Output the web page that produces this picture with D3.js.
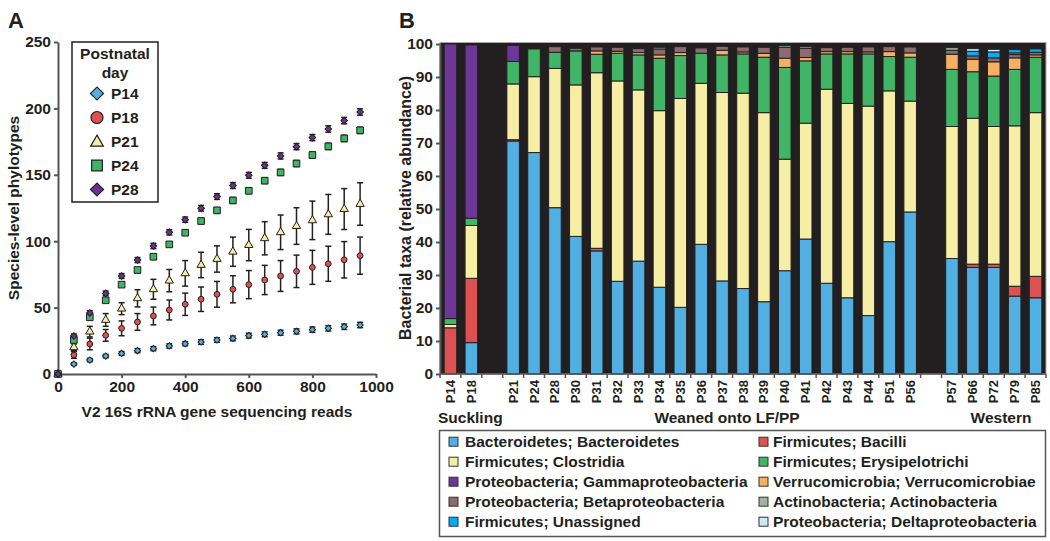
<!DOCTYPE html>
<html><head><meta charset="utf-8">
<script src="https://cdn.jsdelivr.net/npm/d3@7"></script>
<style>
html,body{margin:0;padding:0;background:#fff;}
svg{display:block;}
text{font-family:"Liberation Sans",Arial,sans-serif;font-weight:bold;fill:#231f20;}
</style></head>
<body>
<script>
// ---------------- Panel A data ----------------
const readsX = [0,50,100,150,200,250,300,350,400,450,500,550,600,650,700,750,800,850,900,950];
const yTicksA = [0,50,100,150,200,250];
const xTicksA = [0,200,400,600,800,1000];
const seriesNames = ["P14","P18","P21","P24","P28"];
const p14 = [0,7.5,10.5,13.5,15.5,17.6,19.1,21.1,22.8,24.1,25.6,26.8,28.9,29.9,31.1,32.1,33.4,34.4,35.6,36.9];
const p18 = [0,14.3,22.6,29.1,34.4,39.2,43.7,48.2,52.5,56.3,60,63.8,67.3,70.8,73.8,77.3,80.3,83,86,89.1];
const p21 = [0,20.1,31.9,40.7,49.2,57,63.8,70.3,75.8,82.1,86.6,92.1,97.1,102.2,106.7,111.4,115.7,120.2,124.2,128];
const p24 = [0,25.6,42.7,55.5,67.3,78.3,88.3,97.6,106.4,115.2,123.2,130.7,138,145.6,151.8,158.5,164.9,171.4,177.4,183.5];
const p28 = [0,28.6,46,60.7,73.8,85.8,96.4,106.7,116.2,124.8,133.6,141.9,149.6,157.1,164.2,171.2,178,184.5,190.8,197.3];
const p14err = [0,1,1.2,1.3,1.4,1.5,1.5,1.6,1.6,1.7,1.7,1.8,1.8,1.8,1.9,1.9,2,2,2,2];
const p18err = [0,2.5,4.4,4.4,5.6,6.3,6.7,7.5,8.4,9.2,9.7,10.2,10.6,11,11.6,12.2,12.8,13.2,13.7,14];
const p21err = [0,2.5,4,4.8,4.5,6.5,7.5,8.4,9.6,9.6,9.9,11,11.8,12.5,13,13.8,14.5,15,15.4,16];
const p24err = [0,1.5,1.6,1.7,1.8,1.9,2,2,2,2.1,2.1,2.2,2.2,2.2,2.3,2.3,2.3,2.4,2.4,2.4];
const p28err = [0,1.5,1.6,1.7,1.8,1.9,2,2,2,2.1,2.1,2.2,2.2,2.2,2.3,2.3,2.3,2.4,2.4,2.4];

// ---------------- Panel B data ----------------
const samples = ["P14","P18","P21","P24","P28","P30","P31","P32","P33","P34","P35","P36","P37","P38","P39","P40","P41","P42","P43","P44","P51","P56","P57","P66","P72","P79","P85"];
const sampleGroup = ["S","S","W","W","W","W","W","W","W","W","W","W","W","W","W","W","W","W","W","W","W","W","X","X","X","X","X"];
const groupNames = ["Suckling","Weaned onto LF/PP","Western"];
const yTicksB = [0,10,20,30,40,50,60,70,80,90,100];
const taxa = [
 "Bacteroidetes; Bacteroidetes","Firmicutes; Bacilli","Firmicutes; Clostridia","Firmicutes; Erysipelotrichi",
 "Proteobacteria; Gammaproteobacteria","Verrucomicrobia; Verrucomicrobiae","Proteobacteria; Betaproteobacteria",
 "Actinobacteria; Actinobacteria","Firmicutes; Unassigned","Proteobacteria; Deltaproteobacteria"];
const bacteroidetes   = [0,9.5,70.6,67.1,50.4,41.7,37.3,28.1,34.2,26.3,20.2,39.3,28.2,25.9,21.9,31.3,40.9,27.5,23.1,17.7,40.1,49.1,35.0,32.3,32.3,23.6,23.1];
const bacilli         = [14.0,19.5,0.4,0,0,0,0.8,0,0,0,0,0,0,0,0,0,0,0,0,0,0,0,0,1.0,1.0,3.0,6.5];
const clostridia      = [1.0,16.0,16.9,23.0,42.2,45.9,53.2,60.7,51.9,53.5,63.3,48.8,57.1,59.2,57.3,33.8,35.1,58.8,58.9,63.5,45.7,33.6,40.0,44.2,41.7,48.6,49.6];
const erysipelotrichi = [1.8,2.2,6.8,8.4,4.9,10.3,5.6,8.4,10.6,15.9,13.0,9.1,11.4,11.9,16.8,27.8,18.9,10.7,15.0,15.8,10.4,13.3,17.3,14.1,15.3,17.1,16.8];
const gammaproteo     = [83.2,52.5,4.9,0,0,0,0,0,0,0,0,0,0,0,0,0,0,0,0,0,0,0,0,0,0,0,0];
const verrucomicrobiae= [0,0,0,0,0,0,1.0,0.6,0.7,1.0,0.9,0,1.4,0.6,1.2,2.8,1.0,0.7,0.7,0.6,1.5,1.3,4.6,3.8,4.3,3.5,0.7];
const betaproteo      = [0,0,0,0,1.7,0.8,1.2,1.2,1.2,1.8,1.8,1.6,1.2,1.5,1.8,3.3,2.8,1.2,1.3,1.5,1.5,1.8,1.2,1.0,1.2,1.0,0.8];
const actinobacteria  = [0,0,0,0,0,0,0,0,0,0.5,0,0,0,0,0,0.5,0.5,0,0,0,0,0,0.8,0,0,0.5,0];
const firmUnassigned  = [0,0,0,0,0,0,0,0,0,0,0,0,0,0,0,0,0,0,0,0,0,0,0,1.4,1.8,1.0,1.0];
const deltaproteo     = [0,0,0,0,0,0,0,0,0,0,0,0,0,0,0,0,0,0,0,0,0,0,0,0.8,0.8,0,0];
const taxaValues = [bacteroidetes,bacilli,clostridia,erysipelotrichi,gammaproteo,verrucomicrobiae,betaproteo,actinobacteria,firmUnassigned,deltaproteo];
const taxaColors = ["#52afe2","#dc5252","#f7eea5","#41b566","#6c3796","#f6b064","#8b6a70","#9cb79c","#02aeef","#cde9f6"];
const legendLeft = [0,2,4,6,8];
const legendRight = [1,3,5,7,9];

// ---------------- SVG ----------------
const W = 1050, H = 541;
const svg = d3.select("body").append("svg").attr("width",W).attr("height",H);
const ink = "#231f20";

// ===== Panel A =====
svg.append("text").attr("x",8).attr("y",28).style("font-size","22px").text("A");
const xA = d3.scaleLinear().domain([0,1000]).range([58,376]);
const yA = d3.scaleLinear().domain([0,250]).range([374,42]);
const gA = svg.append("g");
const axL = gA.append("g").attr("transform","translate(58,0)")
  .call(d3.axisLeft(yA).tickValues(yTicksA).tickFormat(d3.format("d")).tickSize(4).tickPadding(3).tickSizeOuter(0));
const axB = gA.append("g").attr("transform","translate(0,374)")
  .call(d3.axisBottom(xA).tickValues(xTicksA).tickFormat(d3.format("d")).tickSize(4).tickPadding(3).tickSizeOuter(0));
[axL,axB].forEach(a=>{
  a.selectAll("path,line").attr("stroke","#555").attr("stroke-width",2);
  a.selectAll("text").style("font-size","15.5px").style("font-family","'Liberation Sans',Arial,sans-serif").attr("fill",ink);
});
gA.append("text").attr("x",217).attr("y",417).attr("text-anchor","middle").style("font-size","15.5px")
  .text("V2 16S rRNA gene sequencing reads");
gA.append("text").attr("transform","translate(19,208) rotate(-90)").attr("text-anchor","middle").style("font-size","15.5px")
  .text("Species-level phylotypes");

const seriesA = [
  {name:"P14", v:p14, e:p14err, color:"#52afe2", shape:"diamond", size:20},
  {name:"P18", v:p18, e:p18err, color:"#e05050", shape:"circle", size:26},
  {name:"P21", v:p21, e:p21err, color:"#f7eea5", shape:"triangle", size:30},
  {name:"P24", v:p24, e:p24err, color:"#3fb465", shape:"square", size:44},
  {name:"P28", v:p28, e:p28err, color:"#6a3095", shape:"diamond", size:22}
];
function symPath(shape,size){
  const t = shape==="circle"?d3.symbolCircle:shape==="triangle"?d3.symbolTriangle:d3.symbolSquare;
  return d3.symbol().type(t).size(size)();
}
function symTransform(shape,x,y){
  return `translate(${x},${y})` + (shape==="diamond"?" rotate(45)":"");
}
// error bars
seriesA.forEach(s=>{
  const g = gA.append("g");
  readsX.forEach((x,i)=>{
    if (x===0) return;
    const cx = xA(x), y1 = yA(s.v[i]+s.e[i]), y2 = yA(s.v[i]-s.e[i]);
    g.append("line").attr("x1",cx).attr("x2",cx).attr("y1",y1).attr("y2",y2).attr("stroke",ink).attr("stroke-width",1.5);
    g.append("line").attr("x1",cx-3).attr("x2",cx+3).attr("y1",y1).attr("y2",y1).attr("stroke",ink).attr("stroke-width",1.5);
    g.append("line").attr("x1",cx-3).attr("x2",cx+3).attr("y1",y2).attr("y2",y2).attr("stroke",ink).attr("stroke-width",1.5);
  });
});
seriesA.forEach(s=>{
  gA.append("g").selectAll("path").data(readsX).join("path")
    .attr("d",symPath(s.shape,s.size))
    .attr("transform",(x,i)=>symTransform(s.shape,xA(x),yA(s.v[i])))
    .attr("fill",s.color).attr("stroke",ink).attr("stroke-width",1);
});
// legend A
gA.append("rect").attr("x",72).attr("y",42).attr("width",86).attr("height",160).attr("fill","#fff").attr("stroke",ink).attr("stroke-width",1.5);
gA.append("text").attr("x",115).attr("y",59).attr("text-anchor","middle").style("font-size","15.5px").text("Postnatal");
gA.append("text").attr("x",115).attr("y",78).attr("text-anchor","middle").style("font-size","15.5px").text("day");
const legSizes = {diamond:85, circle:113, triangle:70, square:115};
seriesA.forEach((s,i)=>{
  const y = 93.5 + i*24;
  gA.append("path").attr("d",symPath(s.shape,legSizes[s.shape]))
    .attr("transform",symTransform(s.shape,97,y + (s.shape==="triangle"?1:0)))
    .attr("fill",s.color).attr("stroke",ink).attr("stroke-width",1.2);
  gA.append("text").attr("x",111).attr("y",y+5.5).style("font-size","15.5px").text(s.name);
});

// ===== Panel B =====
svg.append("text").attr("x",399).attr("y",28).style("font-size","22px").text("B");
const slots = [];
samples.forEach((s,i)=>{
  if (i>0 && sampleGroup[i]!==sampleGroup[i-1]) slots.push("gap"+i);
  slots.push(s);
});
const xB = d3.scaleBand().domain(slots).range([440,1046]).paddingInner(0.4).paddingOuter(0.2);
const yB = d3.scaleLinear().domain([0,100]).range([374,44]);
const gB = svg.append("g");
gB.append("rect").attr("x",440).attr("y",42.5).attr("width",606).attr("height",331.5).attr("fill","#231f20").attr("stroke","#a8a8a8").attr("stroke-width",1);

const rows = samples.map((s,i)=>{
  const r = {sample:s};
  taxa.forEach((t,k)=>{ r[t] = taxaValues[k][i]; });
  return r;
});
const stack = d3.stack().keys(taxa)(rows);
stack.forEach((layer,k)=>{
  gB.append("g").selectAll("rect").data(layer.filter(d=>d[1]-d[0]>0)).join("rect")
    .attr("x",d=>xB(d.data.sample)).attr("width",xB.bandwidth())
    .attr("y",d=>yB(d[1])).attr("height",d=>yB(d[0])-yB(d[1]))
    .attr("fill",taxaColors[k]).attr("stroke","#231f20").attr("stroke-width",1);
});
const axBL = gB.append("g").attr("transform","translate(440,0)")
  .call(d3.axisLeft(yB).tickValues(yTicksB).tickSize(4).tickPadding(3).tickSizeOuter(0));
axBL.selectAll("path,line").attr("stroke","#555").attr("stroke-width",2);
axBL.selectAll("text").style("font-size","15.5px").style("font-family","'Liberation Sans',Arial,sans-serif").attr("fill",ink);
// slot boundary ticks
const bounds = d3.range(slots.length+1).map(i=>440 + i*xB.step());
gB.append("g").selectAll("line").data(bounds).join("line")
  .attr("x1",d=>d).attr("x2",d=>d).attr("y1",374).attr("y2",378).attr("stroke","#555").attr("stroke-width",1.5);
gB.append("line").attr("x1",440).attr("x2",1046).attr("y1",374).attr("y2",374).attr("stroke","#555").attr("stroke-width",1.5);
gB.append("g").selectAll("text").data(samples).join("text")
  .attr("transform",d=>`translate(${xB(d)+xB.bandwidth()/2+4.5},380) rotate(-90)`)
  .attr("text-anchor","end").style("font-size","13px").text(d=>d);
gB.append("text").attr("x",438).attr("y",423).style("font-size","15.5px").text(groupNames[0]);
gB.append("text").attr("x",727).attr("y",423).attr("text-anchor","middle").style("font-size","15.5px").text(groupNames[1]);
gB.append("text").attr("x",1001).attr("y",423).attr("text-anchor","middle").style("font-size","15.5px").text(groupNames[2]);
gB.append("text").attr("transform","translate(411,208) rotate(-90)").attr("text-anchor","middle").style("font-size","16px")
  .text("Bacterial taxa (relative abundance)");

// legend B
gB.append("rect").attr("x",439.5).attr("y",430.5).attr("width",606).attr("height",106).attr("fill","#fff").attr("stroke","#555").attr("stroke-width",1.5);
function legCol(idx,sx,tx){
  idx.forEach((k,j)=>{
    const y = 441.7 + j*20;
    gB.append("rect").attr("x",sx).attr("y",y-4.5).attr("width",9).attr("height",9).attr("fill",taxaColors[k]).attr("stroke","#333").attr("stroke-width",1);
    gB.append("text").attr("x",tx).attr("y",y+5.5).style("font-size","15.5px").text(taxa[k]);
  });
}
legCol(legendLeft,449,465);
legCol(legendRight,759,773);
</script>
</body></html>
